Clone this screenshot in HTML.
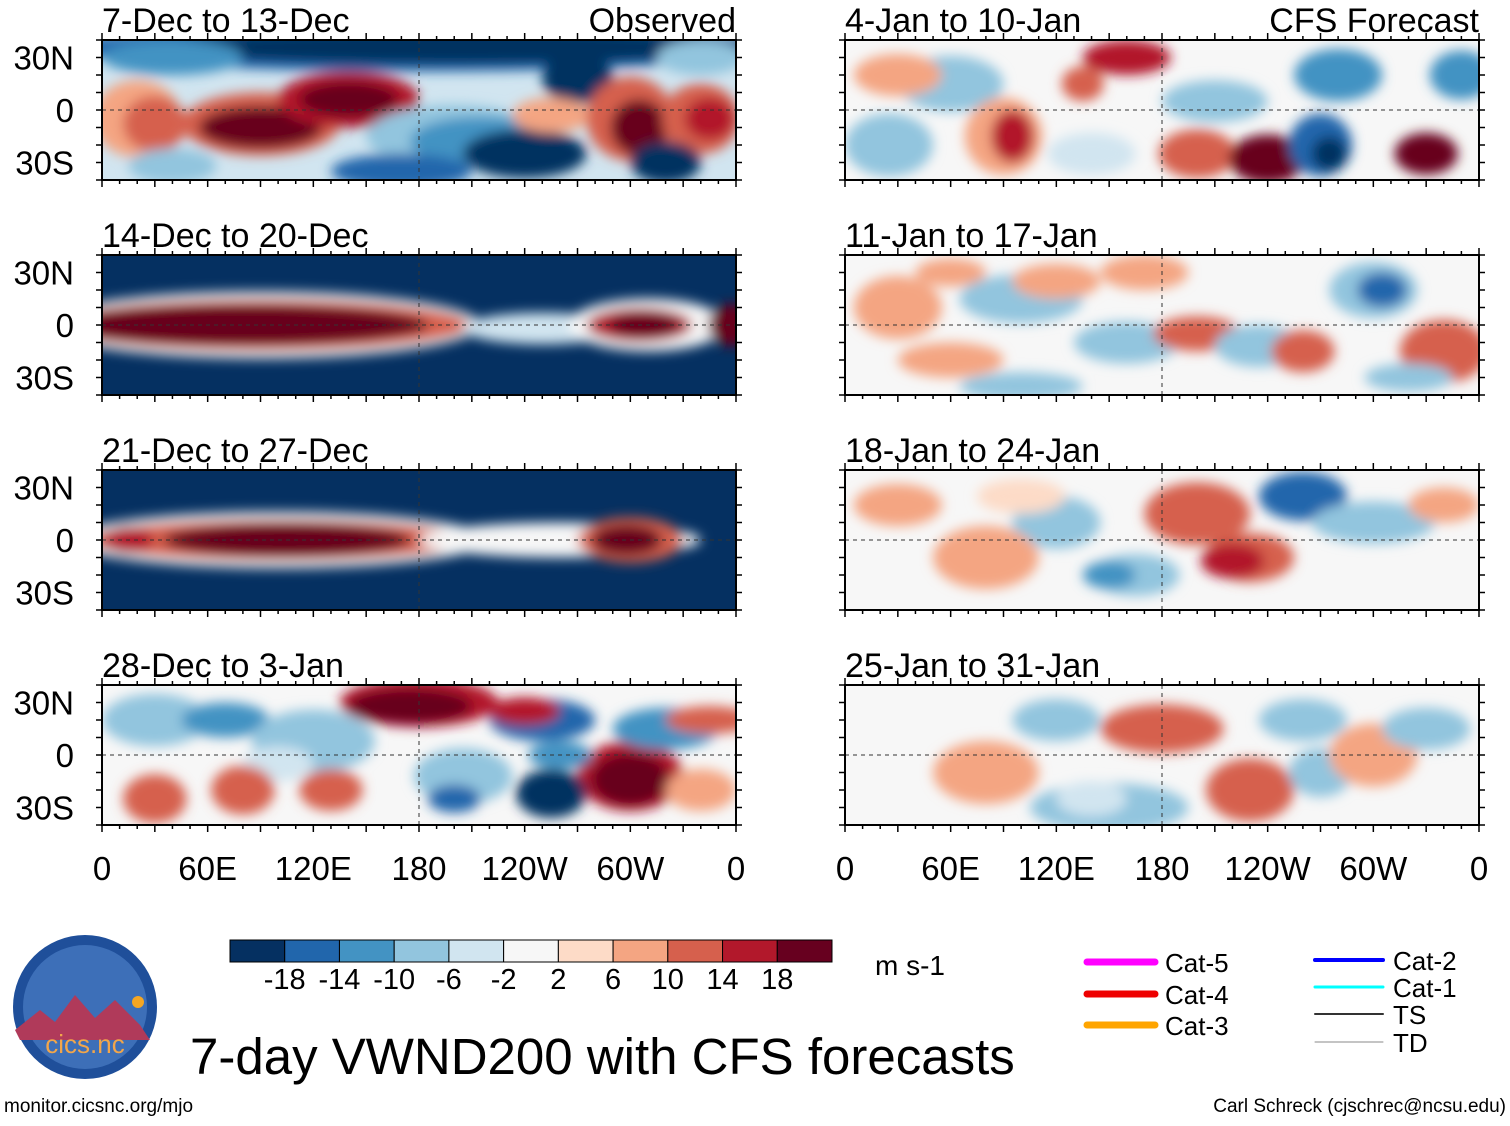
<!DOCTYPE html>
<html><head><meta charset="utf-8"><style>
body{margin:0;background:#fff;width:1510px;height:1121px;overflow:hidden;font-family:"Liberation Sans",sans-serif}
svg text{font-family:"Liberation Sans",sans-serif}
</style></head><body>
<svg id="fig" width="1510" height="1121" viewBox="0 0 1510 1121" xmlns="http://www.w3.org/2000/svg">
<defs>
<filter id="bl" x="-50%" y="-50%" width="200%" height="200%"><feGaussianBlur stdDeviation="6"/></filter>
</defs>
<g id="panels"></g>
<g id="cbar"></g>
<g>
<circle cx="85" cy="1007" r="72" fill="#1f4f9a"/>
<circle cx="85" cy="1007" r="62" fill="#3d6fb8"/>
<path d="M15 1030 L40 1010 L55 1022 L75 995 L95 1018 L115 1000 L140 1025 L150 1040 L20 1040Z" fill="#b03a5a"/>
<circle cx="138" cy="1002" r="6" fill="#f5a623"/>
<text x="85" y="1053" text-anchor="middle" font-size="26" fill="#f2a64a">cics.nc</text>
</g>
<text x="190" y="1074" font-size="51" fill="#000">7-day VWND200 with CFS forecasts</text>
<text x="875" y="975" font-size="28">m s-1</text>
<text x="4" y="1112" font-size="19">monitor.cicsnc.org/mjo</text>
<text x="1506" y="1112" font-size="19" text-anchor="end">Carl Schreck (cjschrec@ncsu.edu)</text>
<g id="legend"></g>
</svg>
<script>
const levelColors=["#053061","#2166ac","#4393c3","#92c5de","#d1e5f0","#f7f7f7","#fddbc7","#f4a582","#d6604d","#b2182b","#67001f"];
const cbarLabels=["-18","-14","-10","-6","-2","2","6","10","14","18"];
const lonTicks=["0","60E","120E","180","120W","60W","0"];
const lonTickVals=[0,60,120,180,240,300,360];
const latTicks=["30N","0","30S"];
const latTickVals=[30,0,-30];
const titlesLeft=["7-Dec to 13-Dec","14-Dec to 20-Dec","21-Dec to 27-Dec","28-Dec to 3-Jan"];
const titlesRight=["4-Jan to 10-Jan","11-Jan to 17-Jan","18-Jan to 24-Jan","25-Jan to 31-Jan"];
// blobs: [lon, lat, lonRadius, latRadius, colorLevel]
const bg=[4,0,0,5,5,5,5,5];
const blobsP0=[[180,36,200,14,1],[200,36,170,10,0],[40,30,40,10,2],[20,-5,25,22,7],[30,-8,18,16,8],[90,-8,45,18,8],[90,-10,35,12,10],[140,6,40,16,9],[140,6,28,10,10],[200,-15,50,18,3],[215,-18,40,14,2],[240,-25,35,14,0],[270,18,20,14,0],[255,-3,22,10,7],[300,-5,25,24,8],[305,-10,16,16,10],[340,-5,22,20,8],[345,-5,14,12,9],[320,-30,20,12,0],[40,-32,25,10,3],[340,30,25,10,3],[170,-35,40,10,1]];
const blobsP1=[[90,0,125,19,5],[90,0,120,15,8],[80,0,105,12,10],[250,-2,45,9,4],[310,0,45,15,5],[305,0,30,10,9],[308,0,20,7,10],[358,0,14,12,10]];
const blobsP2=[[100,0,120,16,5],[100,0,110,12,8],[105,0,70,10,10],[15,0,14,8,9],[260,0,80,10,5],[300,0,30,13,8],[298,0,20,9,10]];
const blobsP3=[[30,20,30,15,3],[70,20,25,10,2],[180,30,45,14,9],[175,28,35,10,10],[120,8,35,18,3],[100,-5,20,10,4],[205,-12,28,16,3],[300,-12,30,20,9],[300,-14,22,15,10],[255,-22,20,14,0],[250,20,30,12,1],[320,15,30,12,2],[260,0,18,8,2],[80,-20,18,14,8],[130,-20,18,12,8],[30,-25,18,14,8],[200,-25,15,8,1],[240,25,20,8,9],[340,-20,20,12,7],[345,20,25,8,8]];
const blobsR0=[[60,15,30,16,3],[25,-20,25,18,3],[90,-15,22,22,7],[95,-15,12,15,9],[140,-25,25,12,4],[160,30,25,10,9],[135,15,12,10,8],[200,-25,22,14,8],[240,-28,22,14,10],[270,-20,18,18,1],[275,-25,10,10,0],[280,20,25,15,2],[330,-25,18,12,10],[350,20,18,14,2],[210,5,30,12,3],[30,20,25,12,7]];
const blobsR1=[[100,15,35,14,3],[120,25,25,10,7],[160,-10,30,12,3],[200,-5,25,10,8],[235,-12,25,12,3],[260,-15,18,12,8],[300,20,25,16,3],[305,20,14,10,1],[340,-15,25,18,8],[60,-20,30,10,7],[30,10,25,18,7],[100,-35,35,8,3],[170,30,25,10,7],[320,-30,25,8,3],[60,30,20,8,7]];
const blobsR2=[[200,15,30,18,8],[230,-10,25,14,8],[260,25,25,14,1],[220,-12,18,10,9],[300,10,35,12,3],[120,10,25,15,3],[80,-10,30,18,7],[165,-20,25,12,3],[150,-20,15,8,2],[30,20,25,12,7],[340,20,20,10,7],[100,25,25,10,6]];
const blobsR3=[[180,15,35,14,8],[150,-30,45,14,3],[230,-20,25,18,8],[270,-10,18,14,3],[260,20,25,12,3],[300,0,25,18,7],[120,20,25,12,3],[80,-10,30,18,7],[330,15,25,12,3],[140,-25,20,10,4]];
const panelBlobs=[blobsP0,blobsP1,blobsP2,blobsP3,blobsR0,blobsR1,blobsR2,blobsR3];
const legendNames=["Cat-5","Cat-4","Cat-3","Cat-2","Cat-1","TS","TD"];
const legendColors=["#ff00ff","#ee0000","#ffa500","#0000ff","#00ffff","#333333","#888888"];

const NS="http://www.w3.org/2000/svg";
function mk(tag,attrs,parent){const e=document.createElementNS(NS,tag);for(const k in attrs)e.setAttribute(k,attrs[k]);if(parent)parent.appendChild(e);return e;}
const PW=634,PH=140,tops=[40,255,470,685],lefts=[102,845];
const panels=document.getElementById('panels');
for(let c=0;c<2;c++)for(let r=0;r<4;r++){
  const idx=c*4+r,x0=lefts[c],y0=tops[r];
  const xs=lon=>x0+lon/360*PW, ys=lat=>y0+PH/2-lat/40*PH/2;
  const g=mk('g',{},panels);
  
  
  const cp=mk('clipPath',{id:'cp'+idx},g);mk('rect',{x:x0,y:y0,width:PW,height:PH},cp);
  const inner=mk('g',{'clip-path':'url(#cp'+idx+')'},g);
  mk('rect',{x:x0-20,y:y0-20,width:PW+40,height:PH+40,fill:levelColors[bg[idx]]},inner);
  const bg2=mk('g',{filter:'url(#bl)'},inner);
  panelBlobs[idx].forEach(b=>{
    const el=mk('ellipse',{cx:xs(b[0]),cy:ys(b[1]),rx:b[2]/360*PW,ry:b[3]/40*PH/2,fill:levelColors[b[4]]},bg2);
    
    
  });
  mk('line',{x1:x0,x2:x0+PW,y1:ys(0),y2:ys(0),stroke:'#333','stroke-dasharray':'4,4','stroke-width':1},inner);
  mk('line',{x1:xs(180),x2:xs(180),y1:y0,y2:y0+PH,stroke:'#333','stroke-dasharray':'4,4','stroke-width':1},inner);
  mk('rect',{x:x0,y:y0,width:PW,height:PH,fill:'none',stroke:'#000','stroke-width':2},g);
  for(let l=0;l<=360;l+=10){const L=l%30==0?7:4;
    mk('line',{x1:xs(l),x2:xs(l),y1:y0,y2:y0-L,stroke:'#000','stroke-width':1.5},g);
    mk('line',{x1:xs(l),x2:xs(l),y1:y0+PH,y2:y0+PH+L,stroke:'#000','stroke-width':1.5},g);}
  for(let la=-40;la<=40;la+=10){mk('line',{x1:x0,x2:x0-6,y1:ys(la),y2:ys(la),stroke:'#000','stroke-width':1.5},g);
    mk('line',{x1:x0+PW,x2:x0+PW+6,y1:ys(la),y2:ys(la),stroke:'#000','stroke-width':1.5},g);}
  const t=mk('text',{x:x0,y:y0-8,'font-size':34},g);t.textContent=(c?titlesRight:titlesLeft)[r];
  
  if(r==0){const t2=mk('text',{x:x0+PW,y:y0-8,'font-size':34,'text-anchor':'end'},g);t2.textContent=c?'CFS Forecast':'Observed';
    }
  if(c==0)latTicks.forEach((s,i)=>{const t3=mk('text',{x:74,y:ys(latTickVals[i])+12,'font-size':33,'text-anchor':'end'},g);t3.textContent=s;
    });
  if(r==3)lonTicks.forEach((s,i)=>{const t4=mk('text',{x:xs(lonTickVals[i]),y:880,'font-size':33,'text-anchor':'middle'},g);t4.textContent=s;
    });
}
const cb=document.getElementById('cbar');const cbX=230,cbW=602/11;
levelColors.forEach((col,i)=>{const r=mk('rect',{x:cbX+i*cbW,y:940,width:cbW,height:22,fill:col,stroke:'#000','stroke-width':1},cb);
  });
cbarLabels.forEach((s,i)=>{const t=mk('text',{x:cbX+(i+1)*cbW,y:989,'font-size':29,'text-anchor':'middle'},cb);t.textContent=s;
  });
const lg=document.getElementById('legend');
const lgPos=[[1087,962],[1087,994],[1087,1025],[1315,960],[1315,987],[1315,1014],[1315,1042]];
const lgW=[7,7,7,4,3,2,1];
legendNames.forEach((n,i)=>{const [lx,ly]=lgPos[i];
  const ln=mk('line',{x1:lx,x2:lx+68,y1:ly,y2:ly,stroke:legendColors[i],'stroke-width':lgW[i],'stroke-linecap':'round'},lg);
  
  const t=mk('text',{x:lx+78,y:ly+10,'font-size':26},lg);t.textContent=n;
  });
</script>
</body></html>
